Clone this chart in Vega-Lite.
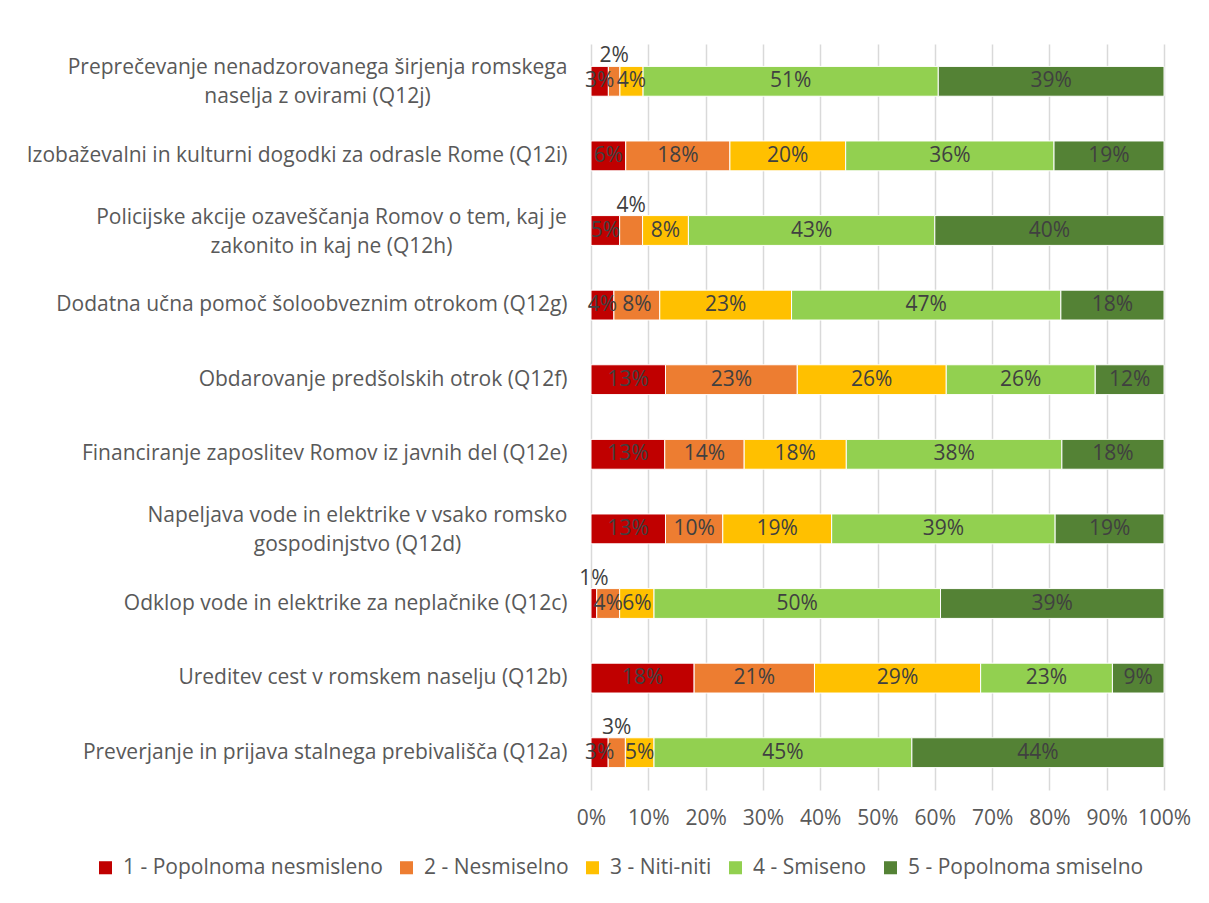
{
  "$schema": "https://vega.github.io/schema/vega-lite/v6.json",
  "autosize": {"type": "none"},
  "padding": {"left": 591, "top": 44, "right": 45, "bottom": 113},
  "width": 573,
  "height": 746,
  "background": "#ffffff",
  "config": {
    "font": "Open Sans",
    "view": {"stroke": null}
  },
  "data": {
    "values": [
      {"item": "Preprečevanje nenadzorovanega širjenja romskega naselja z ovirami (Q12j)", "cat": "1 - Popolnoma nesmisleno", "pct": 3, "pos": "in"},
      {"item": "Preprečevanje nenadzorovanega širjenja romskega naselja z ovirami (Q12j)", "cat": "2 - Nesmiselno", "pct": 2, "pos": "above"},
      {"item": "Preprečevanje nenadzorovanega širjenja romskega naselja z ovirami (Q12j)", "cat": "3 - Niti-niti", "pct": 4, "pos": "in"},
      {"item": "Preprečevanje nenadzorovanega širjenja romskega naselja z ovirami (Q12j)", "cat": "4 - Smiseno", "pct": 51, "pos": "in"},
      {"item": "Preprečevanje nenadzorovanega širjenja romskega naselja z ovirami (Q12j)", "cat": "5 - Popolnoma smiselno", "pct": 39, "pos": "in"},
      {"item": "Izobaževalni in kulturni dogodki za odrasle Rome (Q12i)", "cat": "1 - Popolnoma nesmisleno", "pct": 6, "pos": "in"},
      {"item": "Izobaževalni in kulturni dogodki za odrasle Rome (Q12i)", "cat": "2 - Nesmiselno", "pct": 18, "pos": "in"},
      {"item": "Izobaževalni in kulturni dogodki za odrasle Rome (Q12i)", "cat": "3 - Niti-niti", "pct": 20, "pos": "in"},
      {"item": "Izobaževalni in kulturni dogodki za odrasle Rome (Q12i)", "cat": "4 - Smiseno", "pct": 36, "pos": "in"},
      {"item": "Izobaževalni in kulturni dogodki za odrasle Rome (Q12i)", "cat": "5 - Popolnoma smiselno", "pct": 19, "pos": "in"},
      {"item": "Policijske akcije ozaveščanja Romov o tem, kaj je zakonito in kaj ne (Q12h)", "cat": "1 - Popolnoma nesmisleno", "pct": 5, "pos": "in"},
      {"item": "Policijske akcije ozaveščanja Romov o tem, kaj je zakonito in kaj ne (Q12h)", "cat": "2 - Nesmiselno", "pct": 4, "pos": "above"},
      {"item": "Policijske akcije ozaveščanja Romov o tem, kaj je zakonito in kaj ne (Q12h)", "cat": "3 - Niti-niti", "pct": 8, "pos": "in"},
      {"item": "Policijske akcije ozaveščanja Romov o tem, kaj je zakonito in kaj ne (Q12h)", "cat": "4 - Smiseno", "pct": 43, "pos": "in"},
      {"item": "Policijske akcije ozaveščanja Romov o tem, kaj je zakonito in kaj ne (Q12h)", "cat": "5 - Popolnoma smiselno", "pct": 40, "pos": "in"},
      {"item": "Dodatna učna pomoč šoloobveznim otrokom (Q12g)", "cat": "1 - Popolnoma nesmisleno", "pct": 4, "pos": "in"},
      {"item": "Dodatna učna pomoč šoloobveznim otrokom (Q12g)", "cat": "2 - Nesmiselno", "pct": 8, "pos": "in"},
      {"item": "Dodatna učna pomoč šoloobveznim otrokom (Q12g)", "cat": "3 - Niti-niti", "pct": 23, "pos": "in"},
      {"item": "Dodatna učna pomoč šoloobveznim otrokom (Q12g)", "cat": "4 - Smiseno", "pct": 47, "pos": "in"},
      {"item": "Dodatna učna pomoč šoloobveznim otrokom (Q12g)", "cat": "5 - Popolnoma smiselno", "pct": 18, "pos": "in"},
      {"item": "Obdarovanje predšolskih otrok (Q12f)", "cat": "1 - Popolnoma nesmisleno", "pct": 13, "pos": "in"},
      {"item": "Obdarovanje predšolskih otrok (Q12f)", "cat": "2 - Nesmiselno", "pct": 23, "pos": "in"},
      {"item": "Obdarovanje predšolskih otrok (Q12f)", "cat": "3 - Niti-niti", "pct": 26, "pos": "in"},
      {"item": "Obdarovanje predšolskih otrok (Q12f)", "cat": "4 - Smiseno", "pct": 26, "pos": "in"},
      {"item": "Obdarovanje predšolskih otrok (Q12f)", "cat": "5 - Popolnoma smiselno", "pct": 12, "pos": "in"},
      {"item": "Financiranje zaposlitev Romov iz javnih del (Q12e)", "cat": "1 - Popolnoma nesmisleno", "pct": 13, "pos": "in"},
      {"item": "Financiranje zaposlitev Romov iz javnih del (Q12e)", "cat": "2 - Nesmiselno", "pct": 14, "pos": "in"},
      {"item": "Financiranje zaposlitev Romov iz javnih del (Q12e)", "cat": "3 - Niti-niti", "pct": 18, "pos": "in"},
      {"item": "Financiranje zaposlitev Romov iz javnih del (Q12e)", "cat": "4 - Smiseno", "pct": 38, "pos": "in"},
      {"item": "Financiranje zaposlitev Romov iz javnih del (Q12e)", "cat": "5 - Popolnoma smiselno", "pct": 18, "pos": "in"},
      {"item": "Napeljava vode in elektrike v vsako romsko gospodinjstvo (Q12d)", "cat": "1 - Popolnoma nesmisleno", "pct": 13, "pos": "in"},
      {"item": "Napeljava vode in elektrike v vsako romsko gospodinjstvo (Q12d)", "cat": "2 - Nesmiselno", "pct": 10, "pos": "in"},
      {"item": "Napeljava vode in elektrike v vsako romsko gospodinjstvo (Q12d)", "cat": "3 - Niti-niti", "pct": 19, "pos": "in"},
      {"item": "Napeljava vode in elektrike v vsako romsko gospodinjstvo (Q12d)", "cat": "4 - Smiseno", "pct": 39, "pos": "in"},
      {"item": "Napeljava vode in elektrike v vsako romsko gospodinjstvo (Q12d)", "cat": "5 - Popolnoma smiselno", "pct": 19, "pos": "in"},
      {"item": "Odklop vode in elektrike za neplačnike (Q12c)", "cat": "1 - Popolnoma nesmisleno", "pct": 1, "pos": "above"},
      {"item": "Odklop vode in elektrike za neplačnike (Q12c)", "cat": "2 - Nesmiselno", "pct": 4, "pos": "in"},
      {"item": "Odklop vode in elektrike za neplačnike (Q12c)", "cat": "3 - Niti-niti", "pct": 6, "pos": "in"},
      {"item": "Odklop vode in elektrike za neplačnike (Q12c)", "cat": "4 - Smiseno", "pct": 50, "pos": "in"},
      {"item": "Odklop vode in elektrike za neplačnike (Q12c)", "cat": "5 - Popolnoma smiselno", "pct": 39, "pos": "in"},
      {"item": "Ureditev cest v romskem naselju (Q12b)", "cat": "1 - Popolnoma nesmisleno", "pct": 18, "pos": "in"},
      {"item": "Ureditev cest v romskem naselju (Q12b)", "cat": "2 - Nesmiselno", "pct": 21, "pos": "in"},
      {"item": "Ureditev cest v romskem naselju (Q12b)", "cat": "3 - Niti-niti", "pct": 29, "pos": "in"},
      {"item": "Ureditev cest v romskem naselju (Q12b)", "cat": "4 - Smiseno", "pct": 23, "pos": "in"},
      {"item": "Ureditev cest v romskem naselju (Q12b)", "cat": "5 - Popolnoma smiselno", "pct": 9, "pos": "in"},
      {"item": "Preverjanje in prijava stalnega prebivališča (Q12a)", "cat": "1 - Popolnoma nesmisleno", "pct": 3, "pos": "in"},
      {"item": "Preverjanje in prijava stalnega prebivališča (Q12a)", "cat": "2 - Nesmiselno", "pct": 3, "pos": "above"},
      {"item": "Preverjanje in prijava stalnega prebivališča (Q12a)", "cat": "3 - Niti-niti", "pct": 5, "pos": "in"},
      {"item": "Preverjanje in prijava stalnega prebivališča (Q12a)", "cat": "4 - Smiseno", "pct": 45, "pos": "in"},
      {"item": "Preverjanje in prijava stalnega prebivališča (Q12a)", "cat": "5 - Popolnoma smiselno", "pct": 44, "pos": "in"}
    ]
  },
  "transform": [
    {"stack": "pct", "groupby": ["item"], "sort": [{"field": "cat", "order": "ascending"}], "offset": "normalize", "as": ["x0", "x1"]},
    {"calculate": "(datum.x0 + datum.x1) / 2", "as": "xm"},
    {"calculate": "datum.pct + '%'", "as": "lbl"}
  ],
  "encoding": {
    "y": {
      "field": "item",
      "type": "nominal",
      "sort": [
        "Preprečevanje nenadzorovanega širjenja romskega naselja z ovirami (Q12j)",
        "Izobaževalni in kulturni dogodki za odrasle Rome (Q12i)",
        "Policijske akcije ozaveščanja Romov o tem, kaj je zakonito in kaj ne (Q12h)",
        "Dodatna učna pomoč šoloobveznim otrokom (Q12g)",
        "Obdarovanje predšolskih otrok (Q12f)",
        "Financiranje zaposlitev Romov iz javnih del (Q12e)",
        "Napeljava vode in elektrike v vsako romsko gospodinjstvo (Q12d)",
        "Odklop vode in elektrike za neplačnike (Q12c)",
        "Ureditev cest v romskem naselju (Q12b)",
        "Preverjanje in prijava stalnega prebivališča (Q12a)"
      ],
      "scale": {"paddingInner": 0.6, "paddingOuter": 0.3},
      "axis": {
        "title": null,
        "domain": false,
        "ticks": false,
        "labelFontSize": 21,
        "labelColor": "#595959",
        "labelLimit": 600,
        "labelLineHeight": 29,
        "labelAlign": {"condition": {"test": "indexof(datum.value, '(Q12j)') >= 0 || indexof(datum.value, '(Q12h)') >= 0 || indexof(datum.value, '(Q12d)') >= 0", "value": "center"}, "value": "right"},
        "labelOffset": {"condition": {"test": "indexof(datum.value, '(Q12j)') >= 0 || indexof(datum.value, '(Q12h)') >= 0 || indexof(datum.value, '(Q12d)') >= 0", "value": -13}, "value": 0},
        "labelPadding": {"condition": [
          {"test": "indexof(datum.value, '(Q12j)') >= 0", "value": 274},
          {"test": "indexof(datum.value, '(Q12h)') >= 0", "value": 260},
          {"test": "indexof(datum.value, '(Q12d)') >= 0", "value": 234}
        ], "value": 24},
        "labelExpr": "indexof(datum.value, '(Q12j)') >= 0 ? ['Preprečevanje nenadzorovanega širjenja romskega', 'naselja z ovirami (Q12j)'] : indexof(datum.value, '(Q12h)') >= 0 ? ['Policijske akcije ozaveščanja Romov o tem, kaj je', 'zakonito in kaj ne (Q12h)'] : indexof(datum.value, '(Q12d)') >= 0 ? ['Napeljava vode in elektrike v vsako romsko', 'gospodinjstvo (Q12d)'] : datum.label"
      }
    }
  },
  "layer": [
    {
      "mark": {"type": "bar", "stroke": "#ffffff", "strokeWidth": 1},
      "encoding": {
        "x": {
          "field": "x0",
          "type": "quantitative",
          "scale": {"domain": [0, 1]},
          "axis": {
            "title": null,
            "format": ".0%",
            "values": [0, 0.1, 0.2, 0.3, 0.4, 0.5, 0.6, 0.7, 0.8, 0.9, 1],
            "domain": false,
            "ticks": false,
            "grid": true,
            "gridColor": "#d9d9d9",
            "gridWidth": 1.5,
            "labelFontSize": 21,
            "labelColor": "#595959",
            "labelPadding": 17,
            "labelFlush": false
          }
        },
        "x2": {"field": "x1"},
        "color": {
          "field": "cat",
          "type": "nominal",
          "scale": {
            "domain": ["1 - Popolnoma nesmisleno", "2 - Nesmiselno", "3 - Niti-niti", "4 - Smiseno", "5 - Popolnoma smiselno"],
            "range": ["#C00000", "#ED7D31", "#FFC000", "#92D050", "#548235"]
          },
          "legend": {
            "title": null,
            "orient": "none",
            "direction": "horizontal",
            "columns": 5,
            "legendX": -496,
            "legendY": 813,
            "symbolType": "square",
            "symbolSize": 170,
            "symbolStrokeWidth": 0,
            "symbolOpacity": 1,
            "labelFontSize": 21,
            "labelColor": "#595959",
            "labelOffset": 7,
            "columnPadding": 13,
            "labelLimit": 400
          }
        }
      }
    },
    {
      "transform": [{"filter": "datum.pos == 'in'"}],
      "mark": {"type": "text", "fontSize": 21, "color": "#404040", "align": "center", "baseline": "middle"},
      "encoding": {
        "x": {"field": "xm", "type": "quantitative"},
        "text": {"field": "lbl"}
      }
    },
    {
      "transform": [{"filter": "datum.pos == 'above'"}],
      "mark": {"type": "text", "fontSize": 21, "color": "#404040", "align": "center", "baseline": "middle", "dy": -25},
      "encoding": {
        "x": {"field": "xm", "type": "quantitative"},
        "text": {"field": "lbl"}
      }
    }
  ]
}
